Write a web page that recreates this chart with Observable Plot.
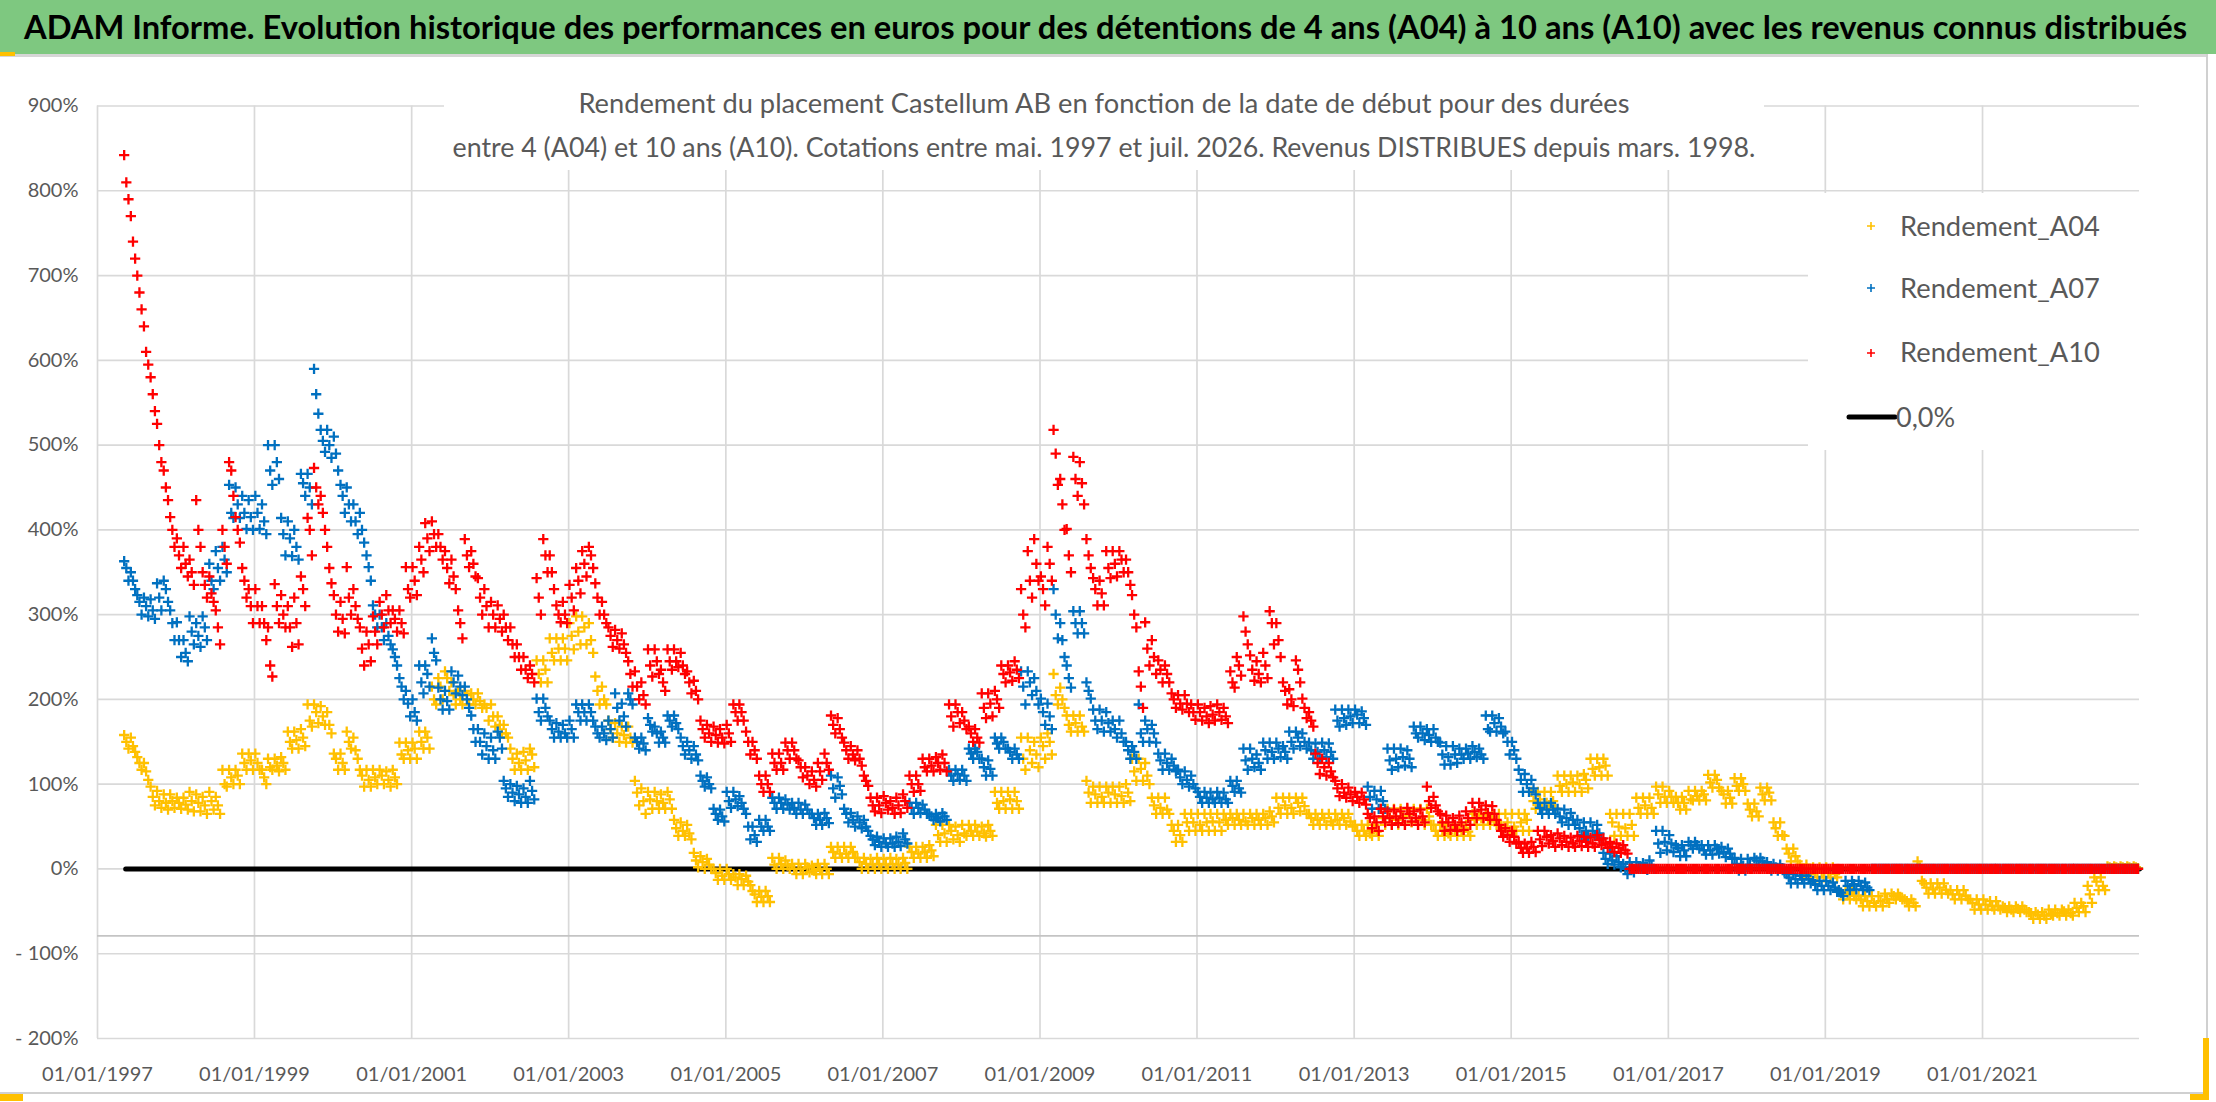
<!DOCTYPE html>
<html>
<head>
<meta charset="utf-8">
<script src="https://cdn.jsdelivr.net/npm/d3@7"></script>
<script src="https://cdn.jsdelivr.net/npm/@observablehq/plot@0.6"></script>
<style>
html, body { margin:0; padding:0; background:#fff; overflow:hidden; }
#page { position:relative; width:2216px; height:1102px; overflow:hidden; background:#fff; font-family: Lato, "Open Sans", sans-serif; }
#titlebar { position:absolute; left:0; top:0; width:2216px; height:54px; background:#7ec880; }
#title { position:absolute; left:0; top:0; width:2211px; height:54px; line-height:54px; text-align:center; white-space:nowrap; }
#title span { font-weight:bold; color:#000; font-size:28px; }
#underline { position:absolute; left:0; top:54px; width:2208px; height:3px; background:#d6d6d6; }
#hl1 { position:absolute; left:0; top:52px; width:15px; height:4px; background:#ffc000; }
#chart { position:absolute; left:0; top:56px; }
#subtitle { position:absolute; left:444px; top:58px; width:1320px; height:112px; background:#fff; }
.sub { position:absolute; left:0; width:1320px; height:42px; line-height:42px; text-align:center; white-space:nowrap; }
.sub span { color:#595959; font-size:24px; }
#legend { position:absolute; left:1808px; top:193px; width:332px; height:257px; background:#fff; }
.lt { position:absolute; white-space:nowrap; height:40px; line-height:40px; color:#595959; font-size:27px; }
#rborder { position:absolute; left:2206px; top:54px; width:2px; height:1040px; background:#d0d0d0; }
#bborder { position:absolute; left:0; top:1092px; width:2208px; height:2px; background:#d0d0d0; }
#hl2 { position:absolute; left:0; top:1094px; width:23px; height:7px; background:#ffc000; }
#hl3 { position:absolute; left:2203px; top:1038px; width:6px; height:62px; background:#ffc000; }
#hl4 { position:absolute; left:2190px; top:1094px; width:19px; height:6px; background:#ffc000; }
</style>
</head>
<body>
<div id="page">
  <div id="titlebar"></div>
  <div id="title"><span id="titleText">ADAM Informe. Evolution historique des performances en euros pour des détentions de 4 ans (A04) à 10 ans (A10) avec les revenus connus distribués</span></div>
  <div id="underline"></div>
  <div id="hl1"></div>
  <div id="rborder"></div>
  <div id="bborder"></div>
  <div id="chart"></div>
  <div id="subtitle">
    <div class="sub" style="top:24px"><span id="sub1">Rendement du placement Castellum AB en fonction de la date de début pour des durées</span></div>
    <div class="sub" style="top:68px"><span id="sub2">entre 4 (A04) et 10 ans (A10). Cotations entre mai. 1997 et juil. 2026. Revenus DISTRIBUES depuis mars. 1998.</span></div>
  </div>
  <div id="legend">
    <svg width="332" height="257" style="position:absolute;left:0;top:0">
      <g stroke-width="1.6">
        <path d="M59,33 h8 M63,29 v8" stroke="#FFC000"/>
        <path d="M59,95 h8 M63,91 v8" stroke="#0070C0"/>
        <path d="M59,160 h8 M63,156 v8" stroke="#FF0000"/>
      </g>
      <line x1="41" y1="224" x2="87" y2="224" stroke="#000" stroke-width="5" stroke-linecap="round"/>
    </svg>
    <div class="lt" style="left:92px;top:13px"><span id="lg1">Rendement_A04</span></div>
    <div class="lt" style="left:92px;top:75px"><span id="lg2">Rendement_A07</span></div>
    <div class="lt" style="left:92px;top:139px"><span id="lg3">Rendement_A10</span></div>
    <div class="lt" style="left:88px;top:204px"><span id="lg4">0,0%</span></div>
  </div>
  <div id="hl2"></div>
  <div id="hl3"></div>
  <div id="hl4"></div>
</div>
<script>
// ---------- data: monthly readings (first value = May 1997, last = Dec 2022) ----------
// for each series: mid-month value, plus the upper and lower edge of that month's cloud
const seriesNames = ["Rendement_A04", "Rendement_A07", "Rendement_A10"];
const seriesColors = ["#FFC000", "#0070C0", "#FF0000"];

const a04 = [
  150,145,125,115,85,80,78,80,
  78,76,80,78,75,80,75,100,108,110,125,128,
  125,108,120,122,125,150,152,155,175,185,180,170,
  130,125,150,140,110,105,108,110,105,108,135,140,
  142,150,155,200,215,225,205,200,205,200,198,190,
  180,170,160,130,125,128,135,230,235,255,260,260,
  275,280,285,270,210,200,165,160,158,155,90,80,
  82,80,78,82,48,45,42,10,8,5,-5,-8,
  -6,-10,-12,-15,-30,-33,-32,5,6,4,0,0,
  2,-2,0,0,20,18,18,20,8,6,5,6,
  5,6,5,7,20,18,20,22,40,42,45,40,
  42,45,44,42,45,78,80,82,80,130,140,135,
  145,150,205,200,170,172,168,90,88,85,90,88,
  86,90,115,118,110,75,72,70,45,40,55,55,
  52,55,56,55,58,60,58,56,60,58,60,62,
  72,75,72,78,74,60,58,60,56,58,60,56,
  45,45,42,44,60,62,58,62,64,60,58,62,
  45,45,42,46,44,44,58,60,58,56,52,55,
  50,55,58,80,82,78,80,98,100,102,100,105,
  118,120,122,55,50,48,52,72,75,72,88,85,
  85,78,78,82,86,88,102,105,88,84,98,100,
  70,68,88,90,48,40,18,15,0,-2,-3,-4,
  -5,-6,-28,-30,-32,-36,-38,-40,-38,-36,-32,-33,
  -38,-40,2,-22,-24,-22,-25,-30,-30,-32,-40,-42,
  -42,-44,-44,-46,-48,-47,-48,-52,-54,-55,-53,-52,
  -50,-52,-46,-44,-30,-15,-20,2,2,2,2,2
];
const a04Hi = [
  158,155,132,125,97,92,88,88,
  84,84,91,88,85,91,85,117,117,117,136,136,
  136,117,130,130,132,162,162,165,194,194,192,185,
  136,136,162,155,117,117,117,117,115,117,149,149,
  149,162,162,215,225,233,220,210,210,207,207,194,
  194,180,170,142,136,138,142,246,246,272,272,272,
  290,298,298,290,227,215,175,172,168,168,104,95,
  91,91,88,91,58,55,52,19,15,12,0,0,
  0,-6,-6,-8,-26,-26,-26,13,13,10,6,6,
  6,4,6,6,26,26,26,26,13,13,12,13,
  12,13,12,13,26,26,26,28,52,52,52,50,
  52,52,52,50,52,91,91,91,91,155,155,150,
  155,160,230,214,181,181,181,104,97,97,97,97,
  97,100,130,130,125,84,84,84,52,52,65,65,
  65,65,65,65,65,65,65,65,65,65,65,68,
  84,84,84,84,84,65,65,65,65,65,65,65,
  52,52,52,52,71,71,71,71,71,71,71,71,
  52,52,52,52,52,52,65,65,65,65,65,65,
  65,65,65,91,91,91,91,110,110,110,110,112,
  130,130,130,65,65,65,65,84,84,84,97,97,
  92,85,85,92,92,92,111,111,92,92,107,107,
  77,77,96,96,55,55,24,24,5,5,2,2,
  2,2,-25,-25,-25,-32,-32,-32,-32,-29,-29,-29,
  -36,-36,9,-17,-17,-17,-17,-25,-25,-25,-36,-36,
  -36,-38,-38,-44,-44,-44,-44,-51,-51,-51,-48,-48,
  -48,-48,-40,-40,-20,-10,-10,3,3,3,3,3
];
const a04Lo = [
  142,138,117,105,75,72,70,72,
  71,70,68,68,65,70,65,97,100,100,117,117,
  117,100,117,115,117,142,142,145,168,172,170,160,
  117,117,142,130,97,97,100,100,97,100,130,130,
  130,142,142,194,200,210,194,194,194,194,190,175,
  168,160,155,117,117,117,120,220,220,246,246,246,
  259,265,265,255,194,194,155,150,149,149,75,65,
  71,71,71,71,39,39,35,2,0,0,-13,-13,
  -13,-19,-19,-19,-39,-39,-39,0,0,0,-6,-6,
  -4,-6,-6,-6,13,13,13,13,0,0,0,0,
  0,0,0,0,13,13,13,15,32,32,35,32,
  39,39,39,38,39,71,71,71,71,117,125,120,
  130,135,194,190,162,162,162,78,78,78,78,78,
  78,80,104,104,100,65,65,65,32,32,45,45,
  45,45,45,45,52,52,52,52,52,52,52,55,
  65,65,65,68,65,52,52,52,52,52,52,50,
  39,39,39,39,52,52,52,52,55,52,52,52,
  39,39,39,39,39,39,52,52,52,52,45,45,
  45,45,45,71,71,71,71,91,91,91,91,95,
  110,110,110,39,39,39,39,65,65,65,78,78,
  78,70,70,81,81,81,96,96,77,77,92,92,
  62,62,81,81,39,39,9,9,-6,-6,-10,-10,
  -10,-10,-36,-36,-36,-44,-44,-44,-44,-40,-36,-36,
  -44,-44,-14,-29,-29,-29,-29,-36,-36,-36,-48,-48,
  -48,-48,-48,-51,-51,-51,-51,-59,-59,-59,-55,-55,
  -55,-55,-51,-51,-40,-25,-25,1,1,1,1,1
];

const a07 = [
  355,340,315,310,305,320,330,290,
  270,255,280,275,285,340,355,365,420,430,420,415,
  420,410,470,480,395,390,380,455,450,560,505,500,
  490,440,430,410,400,356,300,285,275,250,215,195,
  185,220,230,255,200,198,220,215,200,165,150,145,
  140,155,95,90,88,85,92,185,190,165,162,160,
  165,185,185,185,160,160,165,190,180,200,150,148,
  170,160,155,175,172,145,140,135,104,100,65,62,
  80,82,78,50,40,50,50,78,78,76,72,70,
  70,60,58,60,95,98,65,58,55,50,35,32,
  30,30,32,35,72,72,70,62,60,62,110,112,
  110,136,138,120,118,148,150,138,135,215,220,210,
  185,180,300,270,225,290,290,210,175,175,172,165,
  160,140,138,160,165,160,128,125,122,108,105,100,
  85,84,82,84,82,98,95,128,130,125,140,138,
  142,138,150,155,150,140,138,140,138,175,178,180,
  182,178,85,82,80,128,130,132,130,160,160,158,
  155,135,132,135,135,136,138,135,165,172,168,150,
  140,105,100,95,72,70,70,62,60,58,48,45,
  45,42,12,10,8,0,2,3,2,4,30,32,
  30,25,22,28,28,22,22,24,20,18,6,4,
  5,10,9,3,2,1,-10,-12,-12,-12,-18,-20,
  -20,-22,-28,-20,-18,-20,-22,0,0,0,0,0,
  0,0,0,0,0,0,0,0,0,0,0,0,
  0,0,0,0,0,0,0,0,0,0,0,0,
  0,0,0,0,0,0,0,0,0,0,0,0
];
const a07Hi = [
  363,350,323,320,318,337,340,305,
  291,270,298,290,298,360,375,380,453,450,440,435,
  440,430,500,500,414,410,400,466,466,590,518,518,
  510,453,450,430,420,370,311,300,290,259,225,210,
  200,240,240,272,214,210,233,228,215,181,165,160,
  155,162,104,100,98,95,104,201,201,175,172,170,
  175,194,194,194,168,168,175,207,195,207,155,155,
  178,168,162,181,181,155,150,145,110,108,71,70,
  91,91,86,65,50,58,58,84,84,82,78,78,
  76,65,65,66,110,108,71,66,62,58,39,38,
  36,36,38,42,78,78,76,65,65,66,117,117,
  117,142,142,130,128,155,155,142,142,233,233,225,
  201,195,330,290,240,304,304,220,188,188,185,175,
  175,150,145,194,175,170,136,136,130,117,115,110,
  91,91,90,91,90,104,104,142,142,135,149,149,
  149,145,162,162,160,149,148,149,148,188,188,188,
  188,186,97,92,92,142,142,142,140,168,168,165,
  165,149,145,145,142,142,145,142,181,181,178,162,
  150,117,112,105,78,78,78,71,70,66,58,55,
  55,52,19,18,15,6,8,8,7,10,45,45,
  40,28,28,32,32,28,28,28,26,24,13,12,
  12,13,13,8,6,5,-6,-6,-8,-8,-14,-14,
  -14,-16,-25,-14,-14,-14,-16,0,0,0,0,0,
  0,0,0,0,0,0,0,0,0,0,0,0,
  0,0,0,0,0,0,0,0,0,0,0,0,
  0,0,0,0,0,0,0,0,0,0,0,0
];
const a07Lo = [
  340,330,300,298,295,305,315,270,
  250,245,265,262,270,330,340,350,414,414,401,400,
  401,395,453,460,370,369,365,440,430,537,492,485,
  470,420,410,395,385,340,285,270,265,240,200,180,
  175,207,215,246,188,188,207,205,190,150,135,130,
  130,142,85,80,78,78,82,175,180,155,155,155,
  155,175,175,175,155,152,155,175,168,194,142,140,
  162,149,149,168,165,135,130,128,97,95,58,56,
  72,74,71,35,32,45,45,71,71,70,65,65,
  65,52,52,54,84,88,55,50,48,45,28,26,
  26,26,27,30,65,66,65,58,56,58,104,105,
  104,130,130,110,110,142,142,130,130,194,205,194,
  170,165,272,250,214,278,278,201,165,162,162,155,
  150,130,130,150,150,149,117,117,115,100,97,95,
  78,78,78,78,78,91,90,117,120,117,130,130,
  132,130,142,145,142,130,130,132,130,168,170,172,
  172,170,71,71,71,117,120,122,120,155,152,150,
  150,123,123,125,130,130,132,130,162,162,160,135,
  130,91,91,88,65,65,65,55,52,52,40,39,
  39,36,6,5,2,-6,-4,0,-1,0,19,22,
  20,15,15,24,24,17,17,18,14,12,-2,-2,
  0,5,5,-2,-2,-3,-17,-17,-17,-17,-25,-25,
  -25,-27,-32,-25,-24,-25,-25,0,0,0,0,0,
  0,0,0,0,0,0,0,0,0,0,0,0,
  0,0,0,0,0,0,0,0,0,0,0,0,
  0,0,0,0,0,0,0,0,0,0,0,0
];

const a10 = [
  810,740,680,610,560,500,450,400,
  370,360,350,400,335,325,285,380,470,400,340,310,
  310,290,240,310,300,285,290,330,400,450,420,355,
  300,295,320,310,260,265,280,300,305,295,290,330,
  340,365,390,395,380,355,345,290,370,360,320,310,
  300,295,285,265,250,235,230,320,370,350,300,300,
  320,340,360,370,320,300,275,270,265,230,215,205,
  240,245,220,245,245,240,220,210,165,160,158,155,
  160,185,185,150,140,100,100,125,125,140,140,120,
  110,105,115,125,170,165,140,135,130,104,75,75,
  78,72,75,80,100,100,120,122,125,125,180,185,
  175,160,155,190,195,200,230,232,235,300,340,360,
  330,360,490,430,370,460,455,370,330,325,355,360,
  365,350,300,215,260,250,235,230,200,195,195,185,
  185,180,182,185,180,220,240,280,235,230,240,290,
  270,210,200,235,190,175,125,120,115,95,90,88,
  85,82,60,55,62,60,62,60,65,60,62,80,
  75,55,55,52,55,60,68,70,66,65,45,40,
  38,25,24,26,35,38,33,36,32,30,33,32,
  30,34,30,26,25,22,0,0,0,0,0,0,
  0,0,0,0,0,0,0,0,0,0,0,0,
  0,0,0,0,0,0,0,0,0,0,0,0,
  0,0,0,0,0,0,0,0,0,0,0,0,
  0,0,0,0,0,0,0,0,0,0,0,0,
  0,0,0,0,0,0,0,0,0,0,0,0,
  0,0,0,0,0,0,0,0,0,0,0,0
];
const a10Hi = [
  842,770,700,640,580,525,470,415,
  390,380,365,435,350,345,305,400,480,415,355,330,
  330,310,285,336,323,310,320,345,414,473,440,380,
  323,315,356,330,285,280,298,315,323,305,305,356,
  356,380,408,410,395,375,365,305,389,375,343,330,
  315,311,300,285,265,250,240,343,389,370,311,315,
  335,355,375,380,337,315,285,282,278,245,233,220,
  259,259,235,259,259,255,233,222,175,170,168,165,
  170,194,194,162,150,110,110,136,136,149,149,128,
  120,115,125,136,181,178,149,145,140,110,84,84,
  86,80,84,88,110,110,130,130,132,135,194,194,
  185,168,165,207,207,210,240,240,245,330,375,389,
  345,380,518,460,401,486,480,389,343,340,375,375,
  375,365,323,233,291,270,246,240,207,205,205,194,
  194,190,192,194,190,233,250,298,252,245,255,304,
  290,220,212,246,201,185,136,130,125,104,100,96,
  91,90,65,62,71,68,70,68,72,68,70,97,
  85,65,63,60,63,68,78,78,75,74,52,48,
  45,32,30,32,45,45,40,42,39,37,39,38,
  37,40,36,32,30,28,0,0,0,0,0,0,
  0,0,0,0,0,0,0,0,0,0,0,0,
  0,0,0,0,0,0,0,0,0,0,0,0,
  0,0,0,0,0,0,0,0,0,0,0,0,
  0,0,0,0,0,0,0,0,0,0,0,0,
  0,0,0,0,0,0,0,0,0,0,0,0,
  0,0,0,0,0,0,0,0,0,0,0,0
];
const a10Lo = [
  790,720,660,595,540,480,435,380,
  355,345,335,380,320,315,265,360,440,385,320,290,
  290,270,227,290,285,262,265,310,370,430,400,337,
  280,278,300,295,240,245,265,285,290,280,278,320,
  323,350,375,380,365,337,330,272,356,345,300,285,
  285,280,270,250,235,225,220,300,350,330,291,290,
  305,325,345,355,300,290,262,260,255,215,200,194,
  227,230,210,235,238,230,207,200,155,150,149,148,
  150,175,175,135,130,91,91,117,117,130,130,108,
  100,97,105,117,160,155,130,128,122,98,68,66,
  70,65,66,72,91,92,115,115,117,115,168,172,
  165,150,149,178,180,190,220,222,225,285,320,340,
  311,340,453,400,350,440,430,355,311,311,343,345,
  350,335,285,190,240,230,220,220,190,188,185,176,
  175,172,175,176,172,214,228,265,222,220,225,265,
  250,194,192,220,178,168,112,110,108,86,84,80,
  78,76,48,45,55,52,54,52,56,52,55,72,
  68,45,46,45,46,52,60,60,58,58,38,32,
  30,19,19,20,27,30,26,28,26,26,27,26,
  26,28,25,20,19,18,0,0,0,0,0,0,
  0,0,0,0,0,0,0,0,0,0,0,0,
  0,0,0,0,0,0,0,0,0,0,0,0,
  0,0,0,0,0,0,0,0,0,0,0,0,
  0,0,0,0,0,0,0,0,0,0,0,0,
  0,0,0,0,0,0,0,0,0,0,0,0,
  0,0,0,0,0,0,0,0,0,0,0,0
];

// zero reference series "0,0%"
const zeroDates = ["1997-05-12", "2023-01-01"];
const zeroValues = [0, 0];

// axes
const xTickLabels = ["1997-01-01","1999-01-01","2001-01-01","2003-01-01","2005-01-01","2007-01-01",
  "2009-01-01","2011-01-01","2013-01-01","2015-01-01","2017-01-01","2019-01-01","2021-01-01"];
const xDomain = ["1997-01-01", "2023-01-01"];
const yTicks = [-200,-100,0,100,200,300,400,500,600,700,800,900];
const yDomain = [-200, 900];
const horizAxisAt = [-79];

// ---------- build ----------
const parse = d3.utcParse("%Y-%m-%d");
const monthly = (vals, day) => vals.map((v, i) => ({date: new Date(Date.UTC(1997, 4 + i, day)), v}));
const series = (mid, hi, lo) => monthly(hi, 5).concat(monthly(mid, 15), monthly(lo, 25));
const A04 = series(a04, a04Hi, a04Lo);
const A07 = series(a07, a07Hi, a07Lo);
const A10 = series(a10, a10Hi, a10Lo);
const zeroData = zeroDates.map((d, i) => ({date: parse(d), v: zeroValues[i]}));
const xTicks = xTickLabels.map(parse);
const fmtY = v => v < 0 ? "- " + (-v) + "%" : v + "%";
const fmtX = d3.utcFormat("%d/%m/%Y");

const dotOpts = (c) => ({x: "date", y: "v", symbol: "plus", r: 3.4, stroke: c, strokeWidth: 2.3});

const chart = Plot.plot({
  width: 2216,
  height: 1046,
  marginTop: 49.5,
  marginBottom: 64,
  marginLeft: 97,
  marginRight: 77,
  style: {fontFamily: "Lato, 'Open Sans', sans-serif", fontSize: "20px", color: "#595959", background: "transparent", overflow: "visible"},
  x: {type: "utc", domain: xDomain.map(parse), label: null},
  y: {domain: yDomain, label: null},
  marks: [
    Plot.gridY(yTicks, {stroke: "#d9d9d9", strokeOpacity: 1, strokeWidth: 1.7}),
    Plot.gridX(xTicks, {stroke: "#d9d9d9", strokeOpacity: 1, strokeWidth: 1.7}),
    Plot.ruleY(horizAxisAt, {stroke: "#c4c4c4", strokeWidth: 1.7}),
    Plot.axisY(yTicks, {tickSize: 0, tickPadding: 19, tickFormat: fmtY, fontSize: 20, label: null}),
    Plot.axisX(xTicks, {tickSize: 0, tickPadding: 28, tickFormat: fmtX, fontSize: 20, label: null}),
    Plot.line(zeroData, {x: "date", y: "v", stroke: "#000", strokeWidth: 5, strokeLinecap: "round"}),
    Plot.dot(A04, dotOpts(seriesColors[0])),
    Plot.dot(A07, dotOpts(seriesColors[1])),
    Plot.dot(A10, dotOpts(seriesColors[2]))
  ]
});
document.getElementById("chart").appendChild(chart);

// ---------- fit text widths to the reference ----------
function fit(id, target) {
  const el = document.getElementById(id);
  const w = el.getBoundingClientRect().width;
  const fs = parseFloat(getComputedStyle(el).fontSize);
  if (w > 0) el.style.fontSize = (fs * target / w) + "px";
}
function fitAll() {
  fit("titleText", 2163);
  fit("sub1", 1051);
  fit("sub2", 1303);
  fit("lg1", 200); fit("lg2", 200); fit("lg3", 200);
}
fitAll();
if (document.fonts && document.fonts.ready) document.fonts.ready.then(fitAll);
</script>
</body>
</html>
